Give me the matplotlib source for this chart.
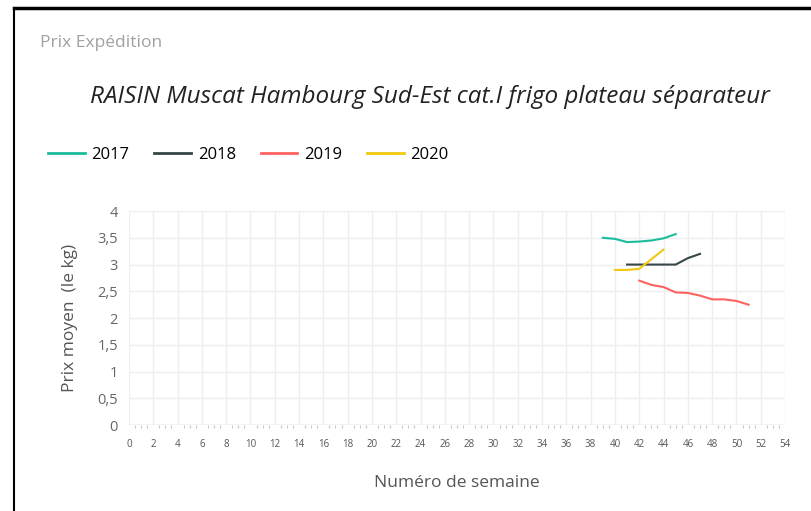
import matplotlib.pyplot as plt
from matplotlib.lines import Line2D
from matplotlib.ticker import MultipleLocator, FuncFormatter

plt.rcParams['font.family'] = ['Open Sans', 'DejaVu Sans']

# data
weeks_2017 = [39, 40, 41, 42, 43, 44, 45]
prix_2017 = [3.50, 3.48, 3.42, 3.43, 3.45, 3.49, 3.57]
weeks_2018 = [41, 42, 43, 44, 45, 46, 47]
prix_2018 = [3.0, 3.0, 3.0, 3.0, 3.0, 3.12, 3.2]
weeks_2019 = [42, 43, 44, 45, 46, 47, 48, 49, 50, 51]
prix_2019 = [2.70, 2.62, 2.58, 2.48, 2.47, 2.42, 2.35, 2.35, 2.32, 2.25]
weeks_2020 = [40, 41, 42, 43, 44]
prix_2020 = [2.90, 2.90, 2.92, 3.10, 3.28]

years = ['2017', '2018', '2019', '2020']
colors = ['#1abc9c', '#374649', '#fd625e', '#f2c80f']

fig = plt.figure(figsize=(8.11, 5.11), dpi=100)
ax = fig.add_axes([0.159, 0.168, 0.809, 0.419])

series = [(weeks_2017, prix_2017), (weeks_2018, prix_2018),
          (weeks_2019, prix_2019), (weeks_2020, prix_2020)]
for (w, p), c, y in zip(series, colors, years):
    ax.plot(w, p, color=c, lw=1.5, label=y)

ax.set_xlim(0, 54)
ax.set_ylim(0, 4)
ax.xaxis.set_major_locator(MultipleLocator(2))
ax.xaxis.set_minor_locator(MultipleLocator(0.5))
ax.yaxis.set_major_locator(MultipleLocator(0.5))
ax.yaxis.set_major_formatter(FuncFormatter(lambda v, _: ('%g' % v).replace('.', ',')))
ax.grid(True, color='#eeeeee', lw=1)
for s in ax.spines.values():
    s.set_visible(False)
ax.tick_params(axis='x', which='major', length=0, labelsize=7, colors='#555555', pad=10)
ax.tick_params(axis='x', which='minor', length=2, color='#c8c8c8', width=0.8)
ax.tick_params(axis='y', length=0, labelsize=10.5, colors='#666666', pad=8)
ax.axhline(0, color='#d8d8d8', lw=1)

ax.set_xlabel('Numéro de semaine', fontsize=12.5, color='#555555', labelpad=18)
ax.set_ylabel('Prix moyen  (le kg)', fontsize=12.5, color='#555555', labelpad=14)

fig.text(40 / 811, 1 - 43 / 511, 'Prix Expédition', fontsize=12.5, color='#a0a0a0', va='center')
fig.text(430 / 811, 1 - 97 / 511, 'RAISIN Muscat Hambourg Sud-Est cat.I frigo plateau séparateur',
         fontsize=17.5, style='italic', color='#222222', ha='center', va='center')

handles = [Line2D([0], [0], color=c, lw=2) for c in colors]
fig.legend(handles, years, loc='center left', bbox_to_anchor=(48 / 811, 1 - 155 / 511),
           ncol=4, frameon=False, fontsize=12, handlelength=2.2, columnspacing=1.5,
           handletextpad=0.4, borderaxespad=0, borderpad=0)

# frame around the visual
fig.add_artist(Line2D([14 / 811, 14 / 811], [0, 1 - 8 / 511], color='black', lw=1.5,
                      transform=fig.transFigure))
fig.add_artist(Line2D([14 / 811, 1], [1 - 8 / 511, 1 - 8 / 511], color='black', lw=2.5,
                      transform=fig.transFigure))

fig.savefig('out.png', dpi=100)
